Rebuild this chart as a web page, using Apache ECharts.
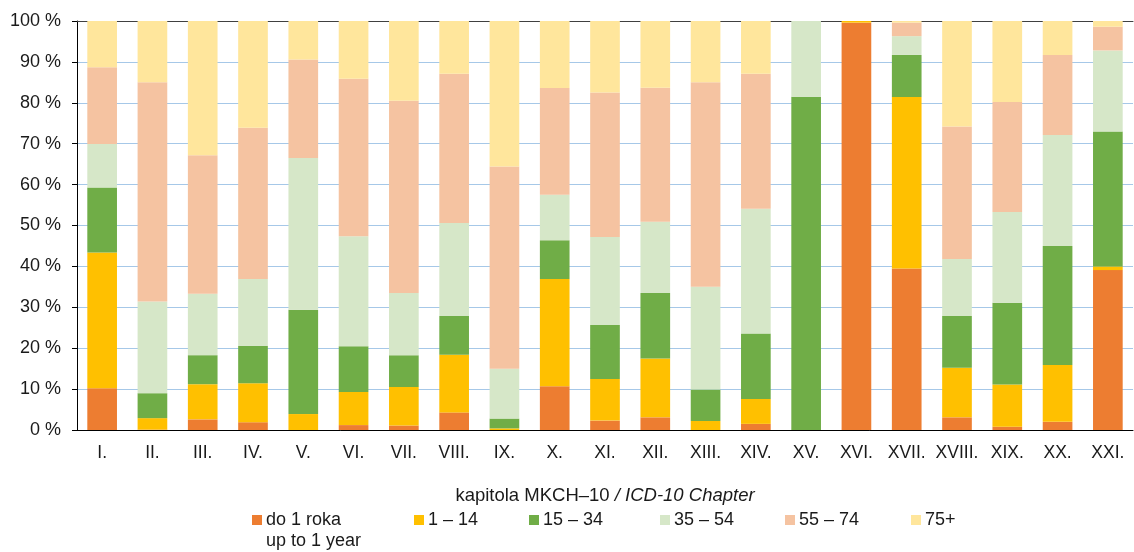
<!DOCTYPE html>
<html>
<head>
<meta charset="utf-8">
<script src="https://cdn.jsdelivr.net/npm/echarts@6/dist/echarts.min.js"></script>
<style>
  html, body { margin: 0; padding: 0; background: #fff; }
  #chart { width: 1134px; height: 552px; }
</style>
</head>
<body>
<div id="chart"></div>
<script>
const chapters = ['I.', 'II.', 'III.', 'IV.', 'V.', 'VI.', 'VII.', 'VIII.', 'IX.', 'X.', 'XI.',
  'XII.', 'XIII.', 'XIV.', 'XV.', 'XVI.', 'XVII.', 'XVIII.', 'XIX.', 'XX.', 'XXI.']

const ageNames = ['do 1 roka', '1 – 14', '15 – 34', '35 – 54', '55 – 74', '75+']

// percentage shares per chapter
const under1 = [10.2, 0.1, 2.6, 1.9, 0, 1.2, 1.1, 4.3, 0, 10.7, 2.3, 3.1, 0, 1.5, 0, 99.6, 39.5, 3.1, 0.8, 2.0, 39.1]
const age1to14 = [33.2, 2.8, 8.6, 9.5, 3.9, 8.1, 9.4, 14.1, 0.4, 26.2, 10.2, 14.4, 2.2, 6.1, 0, 0.4, 41.9, 12.1, 10.3, 13.9, 0.9]
const age15to34 = [15.9, 6.1, 7.1, 9.2, 25.5, 11.2, 7.8, 9.5, 2.4, 9.5, 13.2, 16.0, 7.7, 16.0, 81.5, 0, 10.3, 12.7, 20.0, 29.1, 33.0]
const age35to54 = [10.6, 22.4, 15.0, 16.3, 37.1, 26.9, 15.2, 22.7, 12.2, 11.1, 21.5, 17.4, 25.1, 30.5, 18.5, 0, 4.6, 13.9, 22.2, 27.1, 19.8]
const age55to74 = [18.8, 53.6, 33.9, 37.0, 24.1, 38.5, 47.0, 36.5, 49.4, 26.1, 35.3, 32.8, 50.0, 33.0, 0, 0, 3.3, 32.4, 26.9, 19.6, 5.8]
const age75plus = [11.3, 15.0, 32.8, 26.1, 9.4, 14.1, 19.5, 12.9, 35.6, 16.4, 17.5, 16.3, 15.0, 12.9, 0, 0, 0.4, 25.8, 19.8, 8.3, 1.4]

const seriesValues = [under1, age1to14, age15to34, age35to54, age55to74, age75plus]
const colors = ['#ED7D31', '#FFC000', '#70AD47', '#D6E7C8', '#F5C3A1', '#FFE69C']
const legendLeft = [252, 414, 529, 660, 785, 911]

const FONT = '"Liberation Sans", Arial, sans-serif'
const TEXT = '#1a1a1a'

const chart = echarts.init(document.getElementById('chart'))

const option = {
  animation: false,
  color: colors,
  textStyle: { fontFamily: FONT, color: TEXT },
  grid: { left: 77, right: 1, top: 21, bottom: 122 },
  legend: ageNames.map((name, i) => ({
    data: [name],
    left: legendLeft[i],
    top: 511,
    padding: 0,
    icon: 'rect',
    itemWidth: 10,
    itemHeight: 10,
    itemGap: 0,
    selectedMode: false,
    textStyle: { fontSize: 18, color: TEXT, fontFamily: FONT, padding: [0, 0, 0, -1] },
  })),
  graphic: [
    {
      type: 'text',
      left: 266,
      top: 532,
      style: { text: 'up to 1 year', fontSize: 18, fontFamily: FONT, fill: TEXT },
    },
  ],
  xAxis: [
    {
      type: 'category',
      data: chapters,
      axisLine: { lineStyle: { color: '#000', width: 1 } },
      axisTick: { length: 6, lineStyle: { color: '#595959' } },
      axisLabel: { fontSize: 17.5, color: TEXT, margin: 14, interval: 0 },
      name: '{n|kapitola MKCH–10 }{i|/ ICD-10 Chapter}',
      nameLocation: 'middle',
      nameGap: 56,
      nameTextStyle: {
        rich: {
          n: { fontSize: 18.5, color: TEXT, fontFamily: FONT },
          i: { fontSize: 18.5, color: TEXT, fontFamily: FONT, fontStyle: 'italic' },
        },
      },
    },
    {
      type: 'category',
      position: 'top',
      data: chapters,
      axisLine: { lineStyle: { color: '#404040', width: 1 } },
      axisTick: { show: false },
      axisLabel: { show: false },
    },
  ],
  yAxis: {
    type: 'value',
    min: 0,
    max: 100,
    interval: 10,
    axisLine: { show: true, lineStyle: { color: '#000' } },
    axisTick: { show: true, length: 5, lineStyle: { color: '#000' } },
    axisLabel: { fontSize: 18, color: TEXT, margin: 16, formatter: '{value} %' },
    splitLine: { lineStyle: { color: '#A6C8E8', width: 1 } },
  },
  series: ageNames.map((name, i) => ({
    name,
    type: 'bar',
    stack: 'total',
    barCategoryGap: '41%',
    data: seriesValues[i],
    itemStyle: { color: colors[i] },
  })),
}

chart.setOption(option)
</script>
</body>
</html>
